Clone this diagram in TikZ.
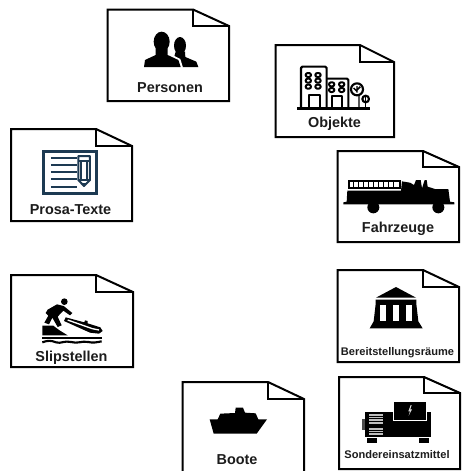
\documentclass[tikz,border=0pt]{standalone}
\usepackage{fontspec}
\setmainfont{Liberation Sans}
\definecolor{lbl}{HTML}{1C1C1C}
\definecolor{inkblue}{HTML}{1D3A52}
\tikzset{
  docline/.style={draw=black,line width=1.5pt,fill=white,line join=miter},
  foldline/.style={draw=black,line width=1.5pt,line join=miter},
  biglabel/.style={font=\bfseries\fontsize{10.8pt}{12pt}\selectfont,text=lbl,inner sep=0pt,anchor=base},
  smalllabel/.style={font=\bfseries\fontsize{8.3pt}{10pt}\selectfont,text=lbl,inner sep=0pt,anchor=base},
  ink/.style={fill=black,draw=none},
  stroke/.style={draw=black,line width=1.6pt,fill=none,line join=round},
  crop/.style={shift={#1},scale=1/3}
}
% \docsheet{left}{top}{right}{bottom}{foldx}{foldy}
\newcommand{\docsheet}[6]{%
  \draw[docline] (#1,#2) -- (#5,#2) -- (#3,#6) -- (#3,#4) -- (#1,#4) -- cycle;
  \draw[foldline] (#5,#2) -- (#5,#6) -- (#3,#6);
}
\begin{document}
\begin{tikzpicture}[x=0.75pt,y=-0.75pt]
\useasboundingbox (0,0) rectangle (461,471);
\clip (0,0) rectangle (461,471);
\fill[white] (0,0) rectangle (461,471);

% sheets
\docsheet{107.5}{9.5}{229}{101}{193}{26}
\docsheet{275.5}{45}{394}{137}{360}{62}
\docsheet{337.5}{151}{459}{242}{423}{167}
\docsheet{11}{129}{132}{221}{96}{146}
\docsheet{11}{275}{133}{367}{96}{292}
\docsheet{337.5}{270}{459}{362}{423}{287}
\docsheet{339}{377}{460}{469}{424}{393}
\docsheet{182.5}{382}{304}{480}{268}{399}

% labels
\node[biglabel] (personen) at (170,92) {Personen};
\node[biglabel] (objekte) at (334.5,127) {Objekte};
\node[biglabel] (fahrzeuge) at (398,232.5) {Fahrzeuge};
\node[biglabel] (prosa) at (70.5,214.5) {Prosa-Texte};
\node[biglabel] (slip) at (71.5,361) {Slipstellen};
\node[smalllabel] (bereit) at (397.5,355) {Bereitstellungsräume};
\node[smalllabel] (sonder) at (397,458) {Sondereinsatzmittel};
\node[biglabel] (boote) at (237,464) {Boote};

% Personen icon
\begin{scope}[crop={(135,25)}]
  \fill[ink] (135,62) ellipse [x radius=18,y radius=26];
  \fill[ink] (122,80) -- (150,80) -- (151,96) -- (184,110) -- (190,126) -- (142,126) -- (136,106) -- (118,94) -- cycle;
  \fill[white] (58,70) -- (102,70) -- (104,86) -- (136,102) -- (144,128) -- (22,128) -- (26,100) -- cycle;
  \fill[ink] (80,50) ellipse [x radius=24,y radius=30];
  \fill[ink] (27,126) -- (30,105) -- (62,90) -- (62,70) -- (98,70) -- (98,90) -- (130,105) -- (137,126) -- cycle;
\end{scope}

% Objekte icon
\begin{scope}[crop={(295,60)}]
  \draw[stroke,rounded corners=1pt] (18,145) -- (18,20) -- (95,20) -- (95,145);
  \draw[stroke,rounded corners=1pt] (95,56) -- (160,56) -- (160,145);
  \draw[stroke,line width=1.8pt] (6,146) -- (226,146);
  \foreach \wx in {40,69} \foreach \wy in {45,62,80}
    \draw[stroke,line width=1.5pt,rounded corners=1.5pt] (\wx-8,\wy-6) rectangle (\wx+8,\wy+6);
  \foreach \wx in {110,140} \foreach \wy in {73,90}
    \draw[stroke,line width=1.5pt,rounded corners=1.5pt] (\wx-8,\wy-6) rectangle (\wx+8,\wy+6);
  \draw[stroke] (42,145) -- (42,106) -- (75,106) -- (75,145);
  \draw[stroke] (110,145) -- (110,109) -- (140,109) -- (140,145);
  \draw[stroke] (186,88) circle (18);
  \draw[stroke,line width=1.1pt] (192,106) -- (192,145) (186,78) -- (186,98) (176,84) -- (186,94) (196,80) -- (186,90);
  \draw[stroke] (212,117) circle (10);
  \draw[stroke,line width=1.2pt] (212,112) -- (212,145);
\end{scope}

% Fahrzeuge icon
\begin{scope}[crop={(340,170)}]
  \draw[stroke,line width=1.3pt,line join=miter] (27,32) rectangle (180,55);
  \foreach \r in {41,56,...,175} \draw[stroke,line width=1.2pt] (\r,32) -- (\r,55);
  \fill[ink] (22,62) -- (183,62) -- (186,34) -- (210,38) -- (222,45) -- (228,30) -- (242,30) -- (246,55) -- (254,30) -- (260,30) -- (263,50) -- (285,57) -- (325,57) -- (330,95) -- (343,97) -- (343,103) -- (10,103) -- (10,97) -- (20,95) -- cycle;
  \fill[ink] (100,112) circle (18);
  \fill[ink] (295,112) circle (18);
\end{scope}

% Prosa icon
\begin{scope}[crop={(0,120)}]
  \draw[draw=inkblue,line width=1.8pt] (131,94) rectangle (290,221);
  \foreach \ly in {113,134,156,178,200}
    \draw[draw=inkblue,line width=1.5pt] (153,\ly) -- (232,\ly);
  \fill[white] (232,104) rectangle (272,200);
  \draw[draw=inkblue,line width=1.5pt,line join=round] (235,108) -- (270,108) -- (270,180) -- (252,198) -- (235,180) -- cycle;
  \draw[draw=inkblue,line width=1.5pt] (235,124) -- (270,124) (244,124) -- (244,178) (261,124) -- (261,178) (235,180) -- (270,180);
  \fill[inkblue] (252,198) -- (243,189) -- (261,189) -- cycle;
\end{scope}

% Slipstellen icon
\begin{scope}[crop={(35,295)}]
  \fill[ink] (88,20) circle (10);
  \fill[ink] (38,44) -- (66,28) -- (86,33) -- (112,54) -- (105,61) -- (85,47) -- (68,65) -- (80,91) -- (68,96) -- (52,68) -- (42,88) -- (28,83) -- (40,62) -- (32,54) -- cycle;
  \fill[ink] (22,92) -- (55,92) -- (72,105) -- (98,121) -- (22,121) -- cycle;
  \fill[ink] (92,67) -- (148,82) -- (150,76) -- (158,78) -- (158,85) -- (196,97) -- (203,108) -- (192,116) -- (165,113) -- (87,78) -- cycle;
  \draw[draw=white,line width=1pt] (98,75) -- (172,101) -- (192,105);
  \fill[ink] (22,127) rectangle (202,133);
  \draw[draw=black,line width=1.6pt] (22,142) .. controls (38,136) and (48,136) .. (63,142) .. controls (78,147) and (88,136) .. (108,141) .. controls (128,147) and (140,137) .. (160,141) .. controls (175,145) and (188,141) .. (200,139);
\end{scope}

% Bereitstellung icon
\begin{scope}[crop={(330,260)}]
  \fill[ink] (198,81) -- (258,113) -- (138,113) -- cycle;
  \fill[ink] (137,119) -- (259,119) -- (259,132) -- (265,184) -- (278,205) -- (119,205) -- (131,184) -- (137,132) -- cycle;
  \fill[white] (149,135) rectangle (167,184);
  \fill[white] (189,135) rectangle (207,184);
  \fill[white] (228,135) rectangle (246,184);
\end{scope}

% Sonder icon
\begin{scope}[crop={(330,365)}]
  \fill[ink] (106,140) rectangle (302,216);
  \fill[ink] (192,110) rectangle (290,165);
  \draw[draw=white,line width=0.7pt] (191,109) -- (289,109) -- (289,166) -- (191,166) -- cycle;
  \fill[black!70] (97,162) rectangle (106,194);
  \fill[ink] (110,219) rectangle (140,234);
  \fill[ink] (266,219) rectangle (296,234);
  \foreach \gy in {149,157,165,173,191,199,207}
    \fill[white!75!black] (117,\gy-2.5) rectangle (159,\gy+2.5);
  \fill[white!85!black] (242,120) -- (235,139) -- (240,139) -- (236,152) -- (246,133) -- (241,133) -- (245,120) -- cycle;
\end{scope}

% Boote icon
\begin{scope}[crop={(175,371)}]
  \fill[ink] (104,145) -- (128,145) -- (136,128) -- (180,126) -- (182,110) -- (204,110) -- (210,125) -- (242,127) -- (250,145) -- (276,145) -- (245,188) -- (116,188) -- cycle;
\end{scope}
\end{tikzpicture}
\end{document}
